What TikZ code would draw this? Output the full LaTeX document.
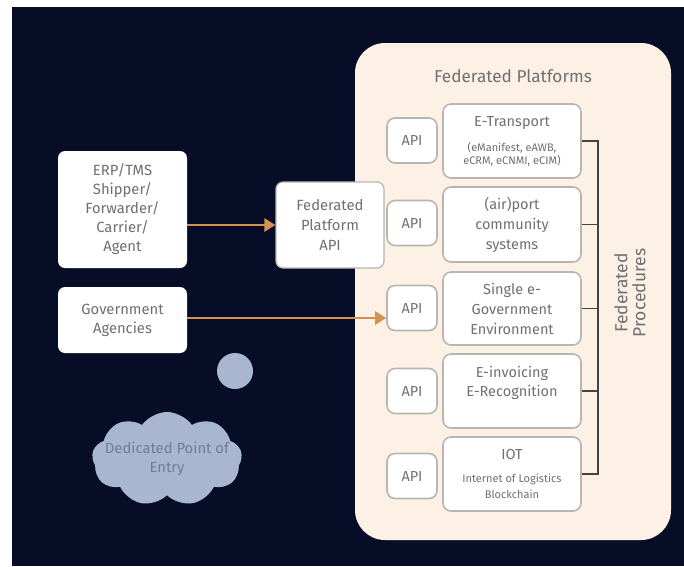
\documentclass[tikz,border=0pt]{standalone}
\usepackage{fontspec}
\setmainfont{Fira Sans}
\usetikzlibrary{arrows.meta,shapes.symbols}
\definecolor{bgdark}{HTML}{070D26}
\definecolor{panel}{HTML}{FDF1E5}
\definecolor{txt}{HTML}{707070}
\definecolor{bord}{HTML}{B8B6B3}
\definecolor{orng}{HTML}{D39253}
\definecolor{cloudc}{HTML}{A9B6CF}
\definecolor{cloudt}{HTML}{6E7D9B}
\definecolor{brk}{HTML}{444444}
\newcommand{\smallf}{\fontsize{11}{13}\selectfont}
\tikzset{
  outerbox/.style={fill=white, draw=none, rounded corners=7pt, align=center, text=txt,
    font=\fontsize{14.8}{19}\selectfont, inner sep=0pt},
  innerbox/.style={fill=white, draw=bord, line width=1.6pt, rounded corners=8pt, align=center,
    text=txt, font=\fontsize{14.5}{20}\selectfont, inner sep=0pt},
  apibox/.style={innerbox, minimum width=50pt, minimum height=45pt},
  platbox/.style={innerbox, minimum width=138pt, minimum height=74pt},
  arr/.style={draw=orng, line width=2.8pt, -{Triangle[length=11pt,width=13pt]}},
  brkline/.style={draw=brk, line width=1.6pt},
}
\begin{document}
\begin{tikzpicture}[x=1pt,y=-1pt]
\useasboundingbox (0,0) rectangle (684,566);
\fill[white] (0,0) rectangle (684,566);
\fill[bgdark] (12,7) rectangle (684,566);
% panel
\fill[panel, rounded corners=30pt] (355,43) rectangle (671,540);
\node[text=txt, font=\fontsize{17.2}{18}\selectfont] (title) at (513,76) {Federated Platforms};
% left boxes
\node[outerbox, minimum width=129pt, minimum height=117pt] (erp) at (122.5,209.5)
  {ERP/TMS\\Shipper/\\Forwarder/\\Carrier/\\Agent};
\node[outerbox, minimum width=129pt, minimum height=66pt] (gov) at (122.5,320)
  {Government\\Agencies};
\node[outerbox, draw=bord, line width=1.2pt, minimum width=108pt, minimum height=86pt, font=\fontsize{14.8}{20}\selectfont] (fpapi) at (330,225)
  {Federated\\Platform\\API};
% platform boxes
\node[platbox] (et) at (512,141)
  {E-Transport\\[5pt]\smallf (eManifest, eAWB,\\[-7pt]\smallf eCRM, eCNMI, eCIM)};
\node[apibox] (api1) at (412,140.5) {API};
\node[platbox, minimum height=75pt] (ap) at (512,224.5)
  {(air)port\\community\\systems};
\node[apibox] (api2) at (412,223) {API};
\node[platbox, minimum height=73pt] (sg) at (512,308.5)
  {Single e-\\Government\\Environment};
\node[apibox] (api3) at (412,308) {API};
\node[platbox] (ei) at (512,391)
  {E-invoicing\\[-1pt]E-Recognition\\[-1pt]~};
\node[apibox] (api4) at (412,391) {API};
\node[platbox] (iot) at (512,474)
  {IOT\\[3pt]\smallf Internet of Logistics\\[-4pt]\smallf Blockchain};
\node[apibox] (api5) at (412,476) {API};
% bracket
\coordinate (bx) at (598,0);
\draw[brkline] (et.east) -- (et.east -| bx) -- (iot.east -| bx) -- (iot.east);
\draw[brkline] (ap.east) -- (ap.east -| bx);
\draw[brkline] (sg.east) -- (sg.east -| bx);
\draw[brkline] (ei.east) -- (ei.east -| bx);
\node[rotate=90, text=txt, align=center, font=\fontsize{17.5}{18}\selectfont] (fp) at (630,293)
  {Federated\\Procedures};
% arrows
\draw[arr] (erp.east |- fpapi.west) -- (fpapi.west);
\draw[arr] ([yshift=2pt]gov.east) -- ([yshift=2pt]gov.east -| api3.west);
% cloud and bubble
\node[circle, fill=cloudc, minimum size=36pt, inner sep=0pt] (bubble) at (235,371) {};
\node[cloud, cloud puffs=9, cloud puff arc=110, aspect=1.6, fill=cloudc, minimum width=150pt,
  minimum height=94pt, inner sep=0pt] (dpe) at (167,459) {};
\node[text=cloudt, align=center, font=\fontsize{14.8}{19}\selectfont] (dpet) at (dpe.center)
  {Dedicated Point of\\Entry};
\end{tikzpicture}
\end{document}
